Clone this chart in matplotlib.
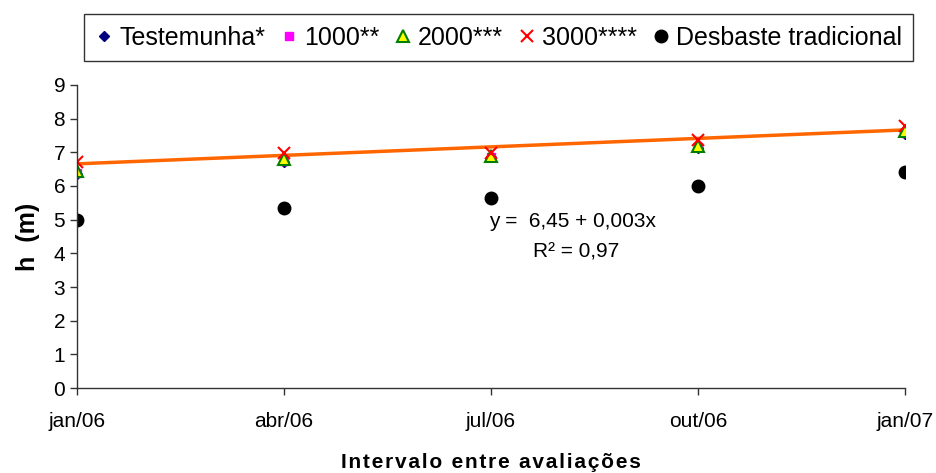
import numpy as np
import matplotlib
matplotlib.use('agg')
import matplotlib.pyplot as plt

plt.rcParams['font.family'] = ['Liberation Sans', 'DejaVu Sans']

# < -- data

meses = ['jan/06', 'abr/06', 'jul/06', 'out/06', 'jan/07']
testemunha = [6.35, 6.72, 6.85, 7.12, 7.55]
d1000 = [6.38, 6.75, 6.87, 7.15, 7.58]
d2000 = [6.45, 6.80, 6.90, 7.20, 7.62]
d3000 = [6.72, 6.97, 6.97, 7.37, 7.78]
desbaste = [5.00, 5.36, 5.65, 6.00, 6.42]

x = np.arange(len(meses))

# < -- plot

fig = plt.figure(figsize=(9.36, 4.73), dpi=100)
ax = fig.add_axes([0.0823, 0.1797, 0.8846, 0.6406])

ax.plot(x, testemunha, 'D', color='#000080', ms=5, ls='none', label='Testemunha*')
ax.plot(x, d1000, 's', color='#FF00FF', ms=6, ls='none', label='1000**')
ax.plot(x, d2000, '^', mfc='#FFFF00', mec='#008000', mew=1.5, ms=8, ls='none', label='2000***')
ax.plot(x, d3000, 'x', color='#FF0000', ms=9, mew=1.5, ls='none', label='3000****')
ax.plot(x, desbaste, 'o', color='black', ms=9, ls='none', label='Desbaste tradicional')

# trend line
coef = np.polyfit(x, d3000, 1)
ax.plot(x, np.polyval(coef, x), color='#FF6600', lw=2.5, zorder=1)

ax.set_xlim(x[0], x[-1])
ax.set_ylim(0, 9)
ax.set_yticks(range(0, 10))
ax.set_xticks(x)
ax.set_xticklabels(meses)
ax.tick_params(labelsize=15, direction='out', length=5, width=1, color='#333333')
ax.tick_params(axis='x', pad=12)
for s in ['top', 'right']:
    ax.spines[s].set_visible(False)
for s in ['left', 'bottom']:
    ax.spines[s].set_color('#333333')
    ax.spines[s].set_linewidth(1)

ax.set_ylabel('h  (m)', fontsize=18, fontweight='bold', labelpad=10)
# slight letter spacing like the original
xlab = '\u200a'.join('Intervalo entre avaliações')
ax.set_xlabel(xlab, fontsize=15, fontweight='bold', labelpad=16,
              family=['Liberation Sans', 'DejaVu Sans'])

ax.text(0.497, 0.53, 'y =  6,45 + 0,003x', transform=ax.transAxes, fontsize=15)
ax.text(0.551, 0.43, 'R² = 0,97', transform=ax.transAxes, fontsize=15)

leg = fig.legend(loc='center', bbox_to_anchor=(0.5326, 0.9207), ncol=5, fontsize=18,
                 handlelength=0.7, handletextpad=0.25, columnspacing=0.6,
                 borderpad=0.45, frameon=True, fancybox=False, borderaxespad=0)
leg.get_frame().set_edgecolor('black')
leg.get_frame().set_linewidth(1)

plt.savefig('out.png', dpi=100)
plt.close()
